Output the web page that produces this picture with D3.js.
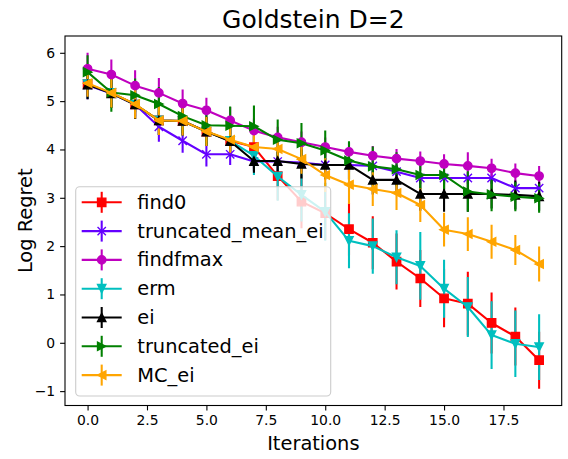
<!DOCTYPE html>
<html>
<head>
<meta charset="utf-8">
<script src="https://cdn.jsdelivr.net/npm/d3@7"></script>
<style>
  body { margin: 0; background: #ffffff; }
  svg { display: block; font-family: "DejaVu Sans", sans-serif; }
</style>
</head>
<body>
<svg id="chart" width="568" height="459"></svg>
<script>
//---data---
var Iterations = d3.range(0, 20)
var XTicks = [0, 2.5, 5, 7.5, 10, 12.5, 15, 17.5]
var YTicks = [-1, 0, 1, 2, 3, 4, 5, 6]

var SeriesNames = ["find0", "truncated_mean_ei", "findfmax", "erm", "ei", "truncated_ei", "MC_ei"]

var find0Mean = [5.35, 5.17, 4.93, 4.60, 4.59, 4.37, 4.18, 4.05, 3.45, 2.92, 2.68, 2.35, 2.07, 1.68, 1.33, 0.92, 0.81, 0.41, 0.13, -0.36]
var find0Err = [0.30, 0.30, 0.30, 0.30, 0.30, 0.30, 0.30, 0.45, 0.50, 0.55, 0.55, 0.55, 0.55, 0.58, 0.59, 0.60, 0.66, 0.63, 0.60, 0.59]

var truncMeanEiMean = [5.33, 5.16, 4.93, 4.47, 4.18, 3.90, 3.90, 3.75, 3.75, 3.73, 3.68, 3.68, 3.66, 3.54, 3.41, 3.41, 3.41, 3.41, 3.20, 3.20]
var truncMeanEiErr = [0.29, 0.25, 0.25, 0.31, 0.25, 0.25, 0.22, 0.20, 0.20, 0.20, 0.15, 0.15, 0.15, 0.15, 0.12, 0.12, 0.12, 0.12, 0.12, 0.12]

var findfmaxMean = [5.67, 5.55, 5.32, 5.17, 4.95, 4.81, 4.60, 4.39, 4.25, 4.15, 4.05, 3.95, 3.87, 3.81, 3.76, 3.70, 3.66, 3.61, 3.51, 3.45]
var findfmaxErr = [0.33, 0.31, 0.32, 0.31, 0.29, 0.26, 0.28, 0.25, 0.22, 0.22, 0.20, 0.20, 0.20, 0.20, 0.20, 0.20, 0.28, 0.20, 0.20, 0.21]

var ermMean = [5.35, 5.17, 4.93, 4.60, 4.59, 4.37, 4.18, 3.87, 3.44, 3.06, 2.71, 2.11, 2.00, 1.77, 1.59, 1.12, 0.74, 0.16, -0.02, -0.09]
var ermErr = [0.30, 0.30, 0.30, 0.30, 0.30, 0.30, 0.30, 0.40, 0.50, 0.55, 0.60, 0.57, 0.57, 0.56, 0.70, 0.60, 0.62, 0.70, 0.69, 0.68]

var eiMean = [5.34, 5.16, 4.93, 4.60, 4.59, 4.37, 4.17, 3.76, 3.76, 3.70, 3.68, 3.68, 3.37, 3.37, 3.08, 3.08, 3.08, 3.08, 3.06, 3.03]
var eiErr = [0.30, 0.30, 0.30, 0.30, 0.30, 0.30, 0.30, 0.24, 0.30, 0.30, 0.30, 0.30, 0.30, 0.30, 0.35, 0.37, 0.37, 0.30, 0.30, 0.30]

var truncEiMean = [5.60, 5.18, 5.12, 4.94, 4.69, 4.50, 4.49, 4.48, 4.20, 4.13, 3.98, 3.77, 3.65, 3.59, 3.47, 3.47, 3.13, 3.07, 3.02, 2.99]
var truncEiErr = [0.35, 0.40, 0.35, 0.35, 0.35, 0.40, 0.40, 0.43, 0.42, 0.42, 0.41, 0.40, 0.41, 0.35, 0.30, 0.30, 0.42, 0.35, 0.30, 0.30]

var mcEiMean = [5.37, 5.17, 4.94, 4.60, 4.59, 4.37, 4.20, 4.05, 4.01, 3.80, 3.47, 3.27, 3.18, 3.10, 2.85, 2.34, 2.25, 2.09, 1.92, 1.63]
var mcEiErr = [0.28, 0.30, 0.30, 0.30, 0.30, 0.30, 0.30, 0.30, 0.30, 0.30, 0.35, 0.40, 0.35, 0.35, 0.35, 0.35, 0.35, 0.35, 0.31, 0.36]

var SeriesColors = ["#ff0000", "#6400ff", "#bf00bf", "#00bfbf", "#000000", "#008000", "#ffa500"]
var SeriesMarkers = ["s", "x", "o", "v", "^", ">", "<"]

//---build series list from the arrays---
var AllMeans = [find0Mean, truncMeanEiMean, findfmaxMean, ermMean, eiMean, truncEiMean, mcEiMean]
var AllErrs = [find0Err, truncMeanEiErr, findfmaxErr, ermErr, eiErr, truncEiErr, mcEiErr]
var Series = SeriesNames.map(function(name, k)
{
    return {
        name: name,
        color: SeriesColors[k],
        marker: SeriesMarkers[k],
        points: Iterations.map(function(it, i) { return {x: it, y: AllMeans[k][i], e: AllErrs[k][i]} })
    }
})

//---layout---
var W = 568, H = 459
var PlotLeft = 65, PlotRight = 561.7, PlotTop = 36, PlotBottom = 405.5
var MS = 8.33 // marker size, px

var svg = d3.select("#chart")

// axis limits with matplotlib style 5% margins
var yLo = d3.min(Series, function(s) { return d3.min(s.points, function(p) { return p.y - p.e }) })
var yHi = d3.max(Series, function(s) { return d3.max(s.points, function(p) { return p.y + p.e }) })
var yPad = (yHi - yLo) * 0.05
var xPad = 19 * 0.05

var xScale = d3.scaleLinear().domain([0 - xPad, 19 + xPad]).range([PlotLeft, PlotRight])
var yScale = d3.scaleLinear().domain([yLo - yPad, yHi + yPad]).range([PlotBottom, PlotTop])

function markerPath(kind)
{
    /*---path string of a marker centred on 0,0---*/
    var r = MS / 2
    if(kind == "s")
        return "M" + (-r) + "," + (-r) + "H" + r + "V" + r + "H" + (-r) + "Z"
    if(kind == "o")
        return d3.symbol().type(d3.symbolCircle).size(Math.PI * r * r)()
    if(kind == "x")
        return "M" + (-r) + "," + (-r) + "L" + r + "," + r + "M" + (-r) + "," + r + "L" + r + "," + (-r)
    if(kind == "^")
        return "M0," + (-r) + "L" + r + "," + r + "L" + (-r) + "," + r + "Z"
    if(kind == "v")
        return "M0," + r + "L" + r + "," + (-r) + "L" + (-r) + "," + (-r) + "Z"
    if(kind == ">")
        return "M" + r + ",0L" + (-r) + "," + (-r) + "L" + (-r) + "," + r + "Z"
    if(kind == "<")
        return "M" + (-r) + ",0L" + r + "," + (-r) + "L" + r + "," + r + "Z"
}

function drawMarker(g, kind, color, x, y)
{
    g.append("path")
        .attr("d", markerPath(kind))
        .attr("transform", "translate(" + x + "," + y + ")")
        .attr("fill", kind == "x" ? "none" : color)
        .attr("stroke", color)
        .attr("stroke-width", 1.39)
        .attr("stroke-linejoin", "miter")
}

//---plot area---
var plotG = svg.append("g")
plotG.append("defs").append("clipPath").attr("id", "clip")
    .append("rect").attr("x", PlotLeft).attr("y", PlotTop)
    .attr("width", PlotRight - PlotLeft).attr("height", PlotBottom - PlotTop)

var dataG = plotG.append("g").attr("clip-path", "url(#clip)")

// error bars go under every line (matplotlib zorder 2 vs 2.1)
Series.forEach(function(s)
{
    dataG.append("g").selectAll("line").data(s.points).join("line")
        .attr("x1", function(p) { return xScale(p.x) })
        .attr("x2", function(p) { return xScale(p.x) })
        .attr("y1", function(p) { return yScale(p.y - p.e) })
        .attr("y2", function(p) { return yScale(p.y + p.e) })
        .attr("stroke", s.color)
        .attr("stroke-width", 2.08)
})

var lineGen = d3.line().x(function(p) { return xScale(p.x) }).y(function(p) { return yScale(p.y) })

Series.forEach(function(s)
{
    var g = dataG.append("g")
    g.append("path").datum(s.points)
        .attr("d", lineGen)
        .attr("fill", "none")
        .attr("stroke", s.color)
        .attr("stroke-width", 2.08)
        .attr("stroke-linejoin", "round")
        .attr("stroke-linecap", "square")
    s.points.forEach(function(p)
    {
        drawMarker(g, s.marker, s.color, xScale(p.x), yScale(p.y))
    })
})

//---axes---
var xAxis = d3.axisBottom(xScale).tickValues(XTicks).tickSize(4.9).tickPadding(4.9)
    .tickFormat(d3.format(".1f"))
var yAxis = d3.axisLeft(yScale).tickValues(YTicks).tickSize(4.9).tickPadding(4.9)
    .tickFormat(function(d) { return d < 0 ? "\u2212" + Math.abs(d) : d })

var gx = svg.append("g").attr("transform", "translate(0," + PlotBottom + ")").call(xAxis)
var gy = svg.append("g").attr("transform", "translate(" + PlotLeft + ",0)").call(yAxis)
;[gx, gy].forEach(function(g)
{
    g.select(".domain").remove()
    g.selectAll(".tick line").attr("stroke", "#000").attr("stroke-width", 1.1)
    g.selectAll(".tick text").attr("fill", "#000").style("font-size", "13.9px")
        .style("font-family", "DejaVu Sans")
})

svg.append("rect")
    .attr("x", PlotLeft).attr("y", PlotTop)
    .attr("width", PlotRight - PlotLeft).attr("height", PlotBottom - PlotTop)
    .attr("fill", "none").attr("stroke", "#000").attr("stroke-width", 1.1)

//---titles---
svg.append("text")
    .attr("x", (PlotLeft + PlotRight) / 2).attr("y", 28)
    .attr("text-anchor", "middle")
    .style("font-size", "25px")
    .text("Goldstein D=2")

svg.append("text")
    .attr("x", (PlotLeft + PlotRight) / 2).attr("y", 450)
    .attr("text-anchor", "middle")
    .style("font-size", "19.4px")
    .text("Iterations")

svg.append("text")
    .attr("transform", "translate(25," + (PlotTop + PlotBottom) / 2 + ") rotate(-90)")
    .attr("text-anchor", "middle")
    .attr("dominant-baseline", "central")
    .style("font-size", "19.4px")
    .text("Log Regret")

//---legend---
var legX = 75.7, legY = 186.7, legW = 255, legH = 209.3, rowGap = 28.8
var legG = svg.append("g")
legG.append("rect")
    .attr("x", legX).attr("y", legY).attr("width", legW).attr("height", legH)
    .attr("rx", 4).attr("ry", 4)
    .attr("fill", "#ffffff").attr("fill-opacity", 0.8)
    .attr("stroke", "#cccccc").attr("stroke-width", 1.1)

Series.forEach(function(s, k)
{
    var cy = legY + 15.6 + k * rowGap
    var row = legG.append("g")
    row.append("line")
        .attr("x1", 101.7).attr("x2", 101.7).attr("y1", cy - 10.5).attr("y2", cy + 10.5)
        .attr("stroke", s.color).attr("stroke-width", 2.08)
    row.append("line")
        .attr("x1", 81.7).attr("x2", 121.7).attr("y1", cy).attr("y2", cy)
        .attr("stroke", s.color).attr("stroke-width", 2.08)
    drawMarker(row, s.marker, s.color, 101.7, cy)
    row.append("text")
        .attr("x", 137.3).attr("y", cy)
        .attr("dominant-baseline", "central")
        .style("font-size", "19.4px")
        .text(s.name)
})
</script>
</body>
</html>
